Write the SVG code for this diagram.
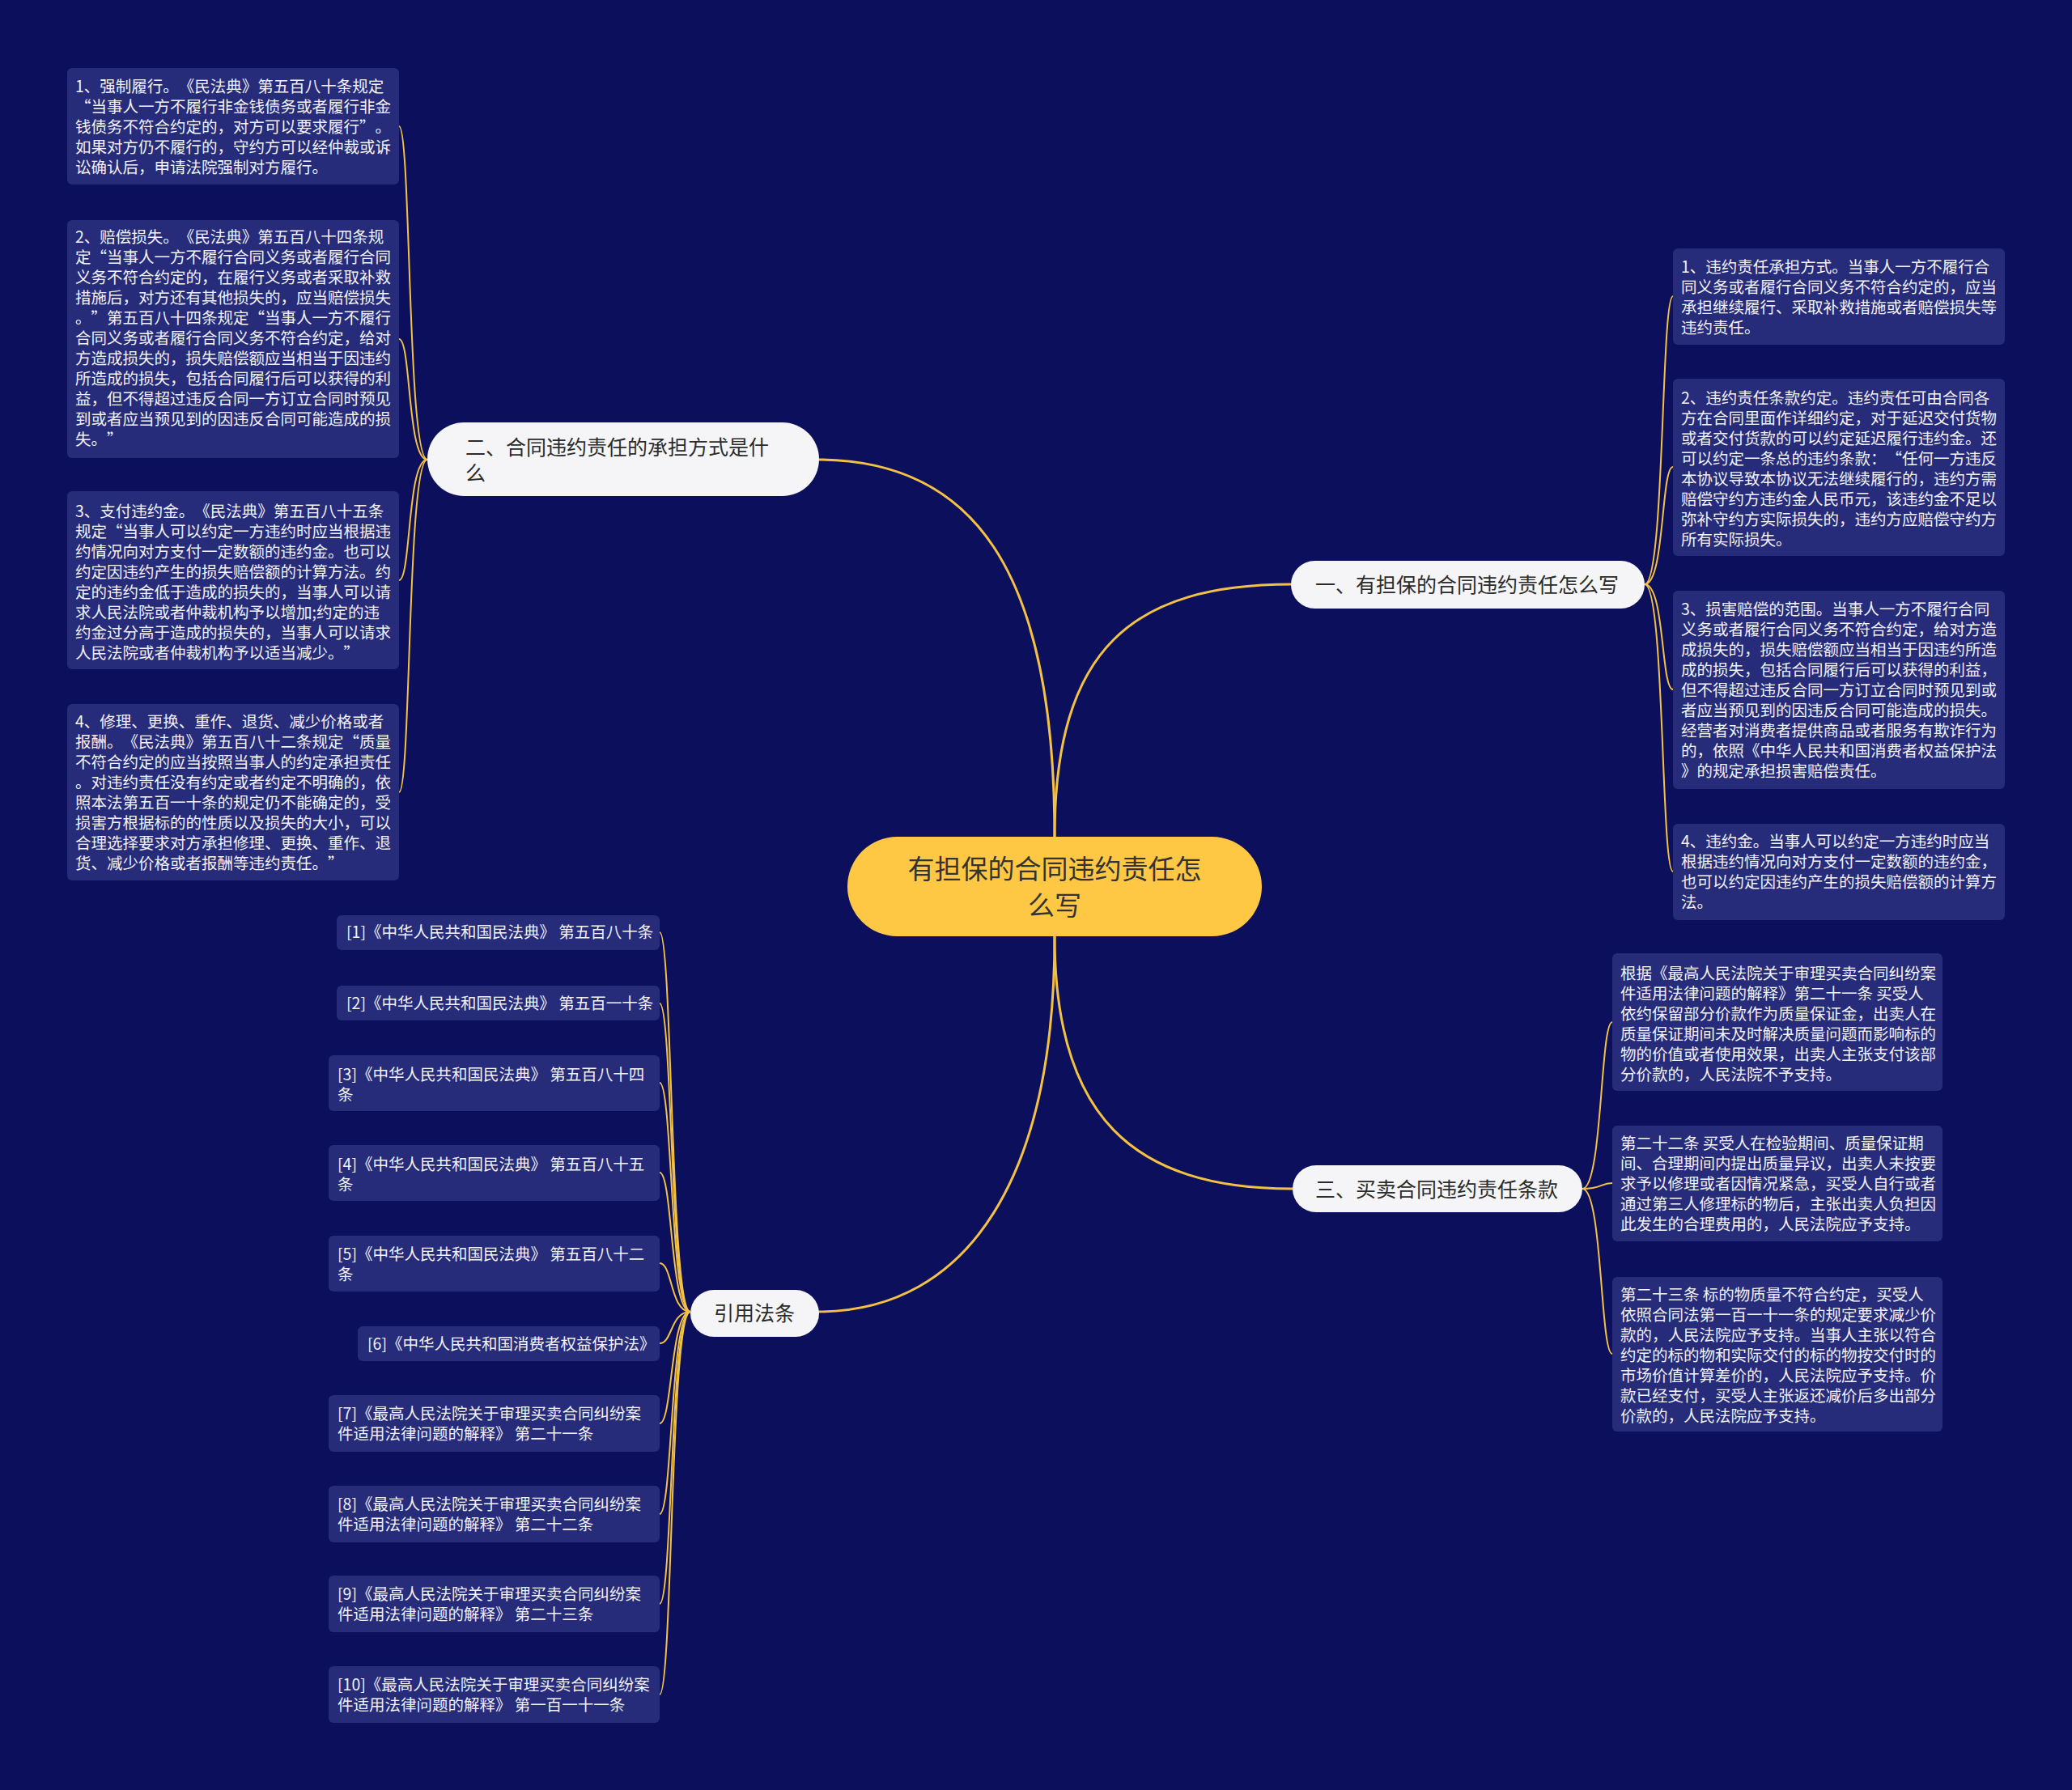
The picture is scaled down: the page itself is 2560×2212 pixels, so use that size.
<svg xmlns="http://www.w3.org/2000/svg" width="2560" height="2212" viewBox="0 0 2560 2212" xml:lang="zh-CN">
<style>
.t{font-family:"Noto Sans CJK SC","Microsoft YaHei",sans-serif;text-spacing-trim:space-all}
.leaf rect{fill:#262C7A}
.leaf text{font-size:19.5px;fill:#F2F2F7}
.br rect{fill:#F5F5F7}
.br text{font-size:25px;fill:#2B2B2B}
.root rect{fill:#FFC844}
.root text{font-size:33px;fill:#333333}
.main{fill:none;stroke:#F3C244;stroke-width:3}
.sub{fill:none;stroke:#F3C244;stroke-width:2}
</style>
<rect x="0" y="0" width="2560" height="2212" fill="#0B0F5C"/>
<g id="connectors">
<path class="main" d="M1303 1034 C1303 700 1200 568 1009 568"/>
<path class="main" d="M1303 1034 C1303 800 1400 722 1597 722"/>
<path class="main" d="M1303 1157 C1303 1380 1400 1469 1597 1469"/>
<path class="main" d="M1303 1157 C1303 1450 1200 1621 1009 1621"/>
<path class="sub" d="M528 568 C503 568 508 156 493 156"/>
<path class="sub" d="M528 568 C503 568 508 419 493 419"/>
<path class="sub" d="M528 568 C503 568 508 717 493 717"/>
<path class="sub" d="M528 568 C503 568 508 979 493 979"/>
<path class="sub" d="M2032 722 C2057 722 2052 366 2067 366"/>
<path class="sub" d="M2032 722 C2057 722 2052 577 2067 577"/>
<path class="sub" d="M2032 722 C2057 722 2052 852 2067 852"/>
<path class="sub" d="M2032 722 C2057 722 2052 1077 2067 1077"/>
<path class="sub" d="M1955 1469 C1980 1469 1977 1263 1992 1263"/>
<path class="sub" d="M1955 1469 C1980 1469 1977 1462 1992 1462"/>
<path class="sub" d="M1955 1469 C1980 1469 1977 1673 1992 1673"/>
<path class="sub" d="M853 1621 C828 1621 831 1152 815 1152"/>
<path class="sub" d="M853 1621 C828 1621 831 1240 815 1240"/>
<path class="sub" d="M853 1621 C828 1621 831 1338 815 1338"/>
<path class="sub" d="M853 1621 C828 1621 831 1449 815 1449"/>
<path class="sub" d="M853 1621 C828 1621 831 1561 815 1561"/>
<path class="sub" d="M853 1621 C828 1621 831 1660 815 1660"/>
<path class="sub" d="M853 1621 C828 1621 831 1759 815 1759"/>
<path class="sub" d="M853 1621 C828 1621 831 1871 815 1871"/>
<path class="sub" d="M853 1621 C828 1621 831 1982 815 1982"/>
<path class="sub" d="M853 1621 C828 1621 831 2094 815 2094"/>
</g>
<g id="root" class="root">
<rect x="1047" y="1034" width="512" height="123" rx="61.5"/>
<text class="t" x="1303" text-anchor="middle"><tspan x="1303" y="1086">有担保的合同违约责任怎</tspan><tspan x="1303" y="1131">么写</tspan></text>
</g>
<g id="b2" class="br">
<rect x="528" y="522" width="484" height="91" rx="45.5"/>
<text class="t"><tspan x="575" y="562">二、合同违约责任的承担方式是什</tspan><tspan x="575" y="594">么</tspan></text>
</g>
<g id="b1" class="br">
<rect x="1595" y="693" width="437" height="59" rx="29.5"/>
<text class="t" x="1625" y="732">一、有担保的合同违约责任怎么写</text>
</g>
<g id="b3" class="br">
<rect x="1597" y="1440" width="358" height="58" rx="29"/>
<text class="t" x="1625" y="1479">三、买卖合同违约责任条款</text>
</g>
<g id="b4" class="br">
<rect x="853" y="1594" width="159" height="58" rx="29"/>
<text class="t" x="882" y="1632">引用法条</text>
</g>
<g id="l1" class="leaf">
<rect x="83" y="84" width="410" height="144" rx="6"/>
<text class="t"><tspan x="93" y="114">1、强制履行。《民法典》第五百八十条规定</tspan><tspan x="93" y="139">“当事人一方不履行非金钱债务或者履行非金</tspan><tspan x="93" y="164">钱债务不符合约定的，对方可以要求履行”。</tspan><tspan x="93" y="189">如果对方仍不履行的，守约方可以经仲裁或诉</tspan><tspan x="93" y="214">讼确认后，申请法院强制对方履行。</tspan></text>
</g>
<g id="l2" class="leaf">
<rect x="83" y="272" width="410" height="294" rx="6"/>
<text class="t"><tspan x="93" y="300">2、赔偿损失。《民法典》第五百八十四条规</tspan><tspan x="93" y="325">定“当事人一方不履行合同义务或者履行合同</tspan><tspan x="93" y="350">义务不符合约定的，在履行义务或者采取补救</tspan><tspan x="93" y="375">措施后，对方还有其他损失的，应当赔偿损失</tspan><tspan x="93" y="400">。”第五百八十四条规定“当事人一方不履行</tspan><tspan x="93" y="425">合同义务或者履行合同义务不符合约定，给对</tspan><tspan x="93" y="450">方造成损失的，损失赔偿额应当相当于因违约</tspan><tspan x="93" y="475">所造成的损失，包括合同履行后可以获得的利</tspan><tspan x="93" y="500">益，但不得超过违反合同一方订立合同时预见</tspan><tspan x="93" y="525">到或者应当预见到的因违反合同可能造成的损</tspan><tspan x="93" y="550">失。”</tspan></text>
</g>
<g id="l3" class="leaf">
<rect x="83" y="607" width="410" height="220" rx="6"/>
<text class="t"><tspan x="93" y="639">3、支付违约金。《民法典》第五百八十五条</tspan><tspan x="93" y="664">规定“当事人可以约定一方违约时应当根据违</tspan><tspan x="93" y="689">约情况向对方支付一定数额的违约金。也可以</tspan><tspan x="93" y="714">约定因违约产生的损失赔偿额的计算方法。约</tspan><tspan x="93" y="739">定的违约金低于造成的损失的，当事人可以请</tspan><tspan x="93" y="764">求人民法院或者仲裁机构予以增加;约定的违</tspan><tspan x="93" y="789">约金过分高于造成的损失的，当事人可以请求</tspan><tspan x="93" y="814">人民法院或者仲裁机构予以适当减少。”</tspan></text>
</g>
<g id="l4" class="leaf">
<rect x="83" y="870" width="410" height="218" rx="6"/>
<text class="t"><tspan x="93" y="899">4、修理、更换、重作、退货、减少价格或者</tspan><tspan x="93" y="924">报酬。《民法典》第五百八十二条规定“质量</tspan><tspan x="93" y="949">不符合约定的应当按照当事人的约定承担责任</tspan><tspan x="93" y="974">。对违约责任没有约定或者约定不明确的，依</tspan><tspan x="93" y="999">照本法第五百一十条的规定仍不能确定的，受</tspan><tspan x="93" y="1024">损害方根据标的的性质以及损失的大小，可以</tspan><tspan x="93" y="1049">合理选择要求对方承担修理、更换、重作、退</tspan><tspan x="93" y="1074">货、减少价格或者报酬等违约责任。”</tspan></text>
</g>
<g id="r1" class="leaf">
<rect x="2067" y="307" width="410" height="119" rx="6"/>
<text class="t"><tspan x="2077" y="337">1、违约责任承担方式。当事人一方不履行合</tspan><tspan x="2077" y="362">同义务或者履行合同义务不符合约定的，应当</tspan><tspan x="2077" y="387">承担继续履行、采取补救措施或者赔偿损失等</tspan><tspan x="2077" y="412">违约责任。</tspan></text>
</g>
<g id="r2" class="leaf">
<rect x="2067" y="468" width="410" height="219" rx="6"/>
<text class="t"><tspan x="2077" y="499">2、违约责任条款约定。违约责任可由合同各</tspan><tspan x="2077" y="524">方在合同里面作详细约定，对于延迟交付货物</tspan><tspan x="2077" y="549">或者交付货款的可以约定延迟履行违约金。还</tspan><tspan x="2077" y="574">可以约定一条总的违约条款：“任何一方违反</tspan><tspan x="2077" y="599">本协议导致本协议无法继续履行的，违约方需</tspan><tspan x="2077" y="624">赔偿守约方违约金人民币元，该违约金不足以</tspan><tspan x="2077" y="649">弥补守约方实际损失的，违约方应赔偿守约方</tspan><tspan x="2077" y="674">所有实际损失。</tspan></text>
</g>
<g id="r3" class="leaf">
<rect x="2067" y="730" width="410" height="245" rx="6"/>
<text class="t"><tspan x="2077" y="760">3、损害赔偿的范围。当事人一方不履行合同</tspan><tspan x="2077" y="785">义务或者履行合同义务不符合约定，给对方造</tspan><tspan x="2077" y="810">成损失的，损失赔偿额应当相当于因违约所造</tspan><tspan x="2077" y="835">成的损失，包括合同履行后可以获得的利益，</tspan><tspan x="2077" y="860">但不得超过违反合同一方订立合同时预见到或</tspan><tspan x="2077" y="885">者应当预见到的因违反合同可能造成的损失。</tspan><tspan x="2077" y="910">经营者对消费者提供商品或者服务有欺诈行为</tspan><tspan x="2077" y="935">的，依照《中华人民共和国消费者权益保护法</tspan><tspan x="2077" y="960">》的规定承担损害赔偿责任。</tspan></text>
</g>
<g id="r4" class="leaf">
<rect x="2067" y="1018" width="410" height="119" rx="6"/>
<text class="t"><tspan x="2077" y="1047">4、违约金。当事人可以约定一方违约时应当</tspan><tspan x="2077" y="1072">根据违约情况向对方支付一定数额的违约金，</tspan><tspan x="2077" y="1097">也可以约定因违约产生的损失赔偿额的计算方</tspan><tspan x="2077" y="1122">法。</tspan></text>
</g>
<g id="s1" class="leaf">
<rect x="1992" y="1178" width="408" height="170" rx="6"/>
<text class="t"><tspan x="2002" y="1210">根据《最高人民法院关于审理买卖合同纠纷案</tspan><tspan x="2002" y="1235">件适用法律问题的解释》第二十一条 买受人</tspan><tspan x="2002" y="1260">依约保留部分价款作为质量保证金，出卖人在</tspan><tspan x="2002" y="1285">质量保证期间未及时解决质量问题而影响标的</tspan><tspan x="2002" y="1310">物的价值或者使用效果，出卖人主张支付该部</tspan><tspan x="2002" y="1335">分价款的，人民法院不予支持。</tspan></text>
</g>
<g id="s2" class="leaf">
<rect x="1992" y="1391" width="408" height="143" rx="6"/>
<text class="t"><tspan x="2002" y="1420">第二十二条 买受人在检验期间、质量保证期</tspan><tspan x="2002" y="1445">间、合理期间内提出质量异议，出卖人未按要</tspan><tspan x="2002" y="1470">求予以修理或者因情况紧急，买受人自行或者</tspan><tspan x="2002" y="1495">通过第三人修理标的物后，主张出卖人负担因</tspan><tspan x="2002" y="1520">此发生的合理费用的，人民法院应予支持。</tspan></text>
</g>
<g id="s3" class="leaf">
<rect x="1992" y="1578" width="408" height="191" rx="6"/>
<text class="t"><tspan x="2002" y="1607">第二十三条 标的物质量不符合约定，买受人</tspan><tspan x="2002" y="1632">依照合同法第一百一十一条的规定要求减少价</tspan><tspan x="2002" y="1657">款的，人民法院应予支持。当事人主张以符合</tspan><tspan x="2002" y="1682">约定的标的物和实际交付的标的物按交付时的</tspan><tspan x="2002" y="1707">市场价值计算差价的，人民法院应予支持。价</tspan><tspan x="2002" y="1732">款已经支付，买受人主张返还减价后多出部分</tspan><tspan x="2002" y="1757">价款的，人民法院应予支持。</tspan></text>
</g>
<g id="c1" class="leaf">
<rect x="416" y="1131" width="399" height="43" rx="6"/>
<text class="t" x="428" y="1159">[1]《中华人民共和国民法典》 第五百八十条</text>
</g>
<g id="c2" class="leaf">
<rect x="416" y="1218" width="399" height="43" rx="6"/>
<text class="t" x="428" y="1247">[2]《中华人民共和国民法典》 第五百一十条</text>
</g>
<g id="c3" class="leaf">
<rect x="406" y="1304" width="409" height="69" rx="6"/>
<text class="t"><tspan x="417" y="1335">[3]《中华人民共和国民法典》 第五百八十四</tspan><tspan x="417" y="1360">条</tspan></text>
</g>
<g id="c4" class="leaf">
<rect x="406" y="1415" width="409" height="69" rx="6"/>
<text class="t"><tspan x="417" y="1446">[4]《中华人民共和国民法典》 第五百八十五</tspan><tspan x="417" y="1471">条</tspan></text>
</g>
<g id="c5" class="leaf">
<rect x="406" y="1527" width="409" height="69" rx="6"/>
<text class="t"><tspan x="417" y="1557">[5]《中华人民共和国民法典》 第五百八十二</tspan><tspan x="417" y="1582">条</tspan></text>
</g>
<g id="c6" class="leaf">
<rect x="442" y="1639" width="373" height="43" rx="6"/>
<text class="t" x="454" y="1668">[6]《中华人民共和国消费者权益保护法》</text>
</g>
<g id="c7" class="leaf">
<rect x="406" y="1724" width="409" height="70" rx="6"/>
<text class="t"><tspan x="417" y="1754">[7]《最高人民法院关于审理买卖合同纠纷案</tspan><tspan x="417" y="1779">件适用法律问题的解释》 第二十一条</tspan></text>
</g>
<g id="c8" class="leaf">
<rect x="406" y="1836" width="409" height="70" rx="6"/>
<text class="t"><tspan x="417" y="1866">[8]《最高人民法院关于审理买卖合同纠纷案</tspan><tspan x="417" y="1891">件适用法律问题的解释》 第二十二条</tspan></text>
</g>
<g id="c9" class="leaf">
<rect x="406" y="1947" width="409" height="70" rx="6"/>
<text class="t"><tspan x="417" y="1977">[9]《最高人民法院关于审理买卖合同纠纷案</tspan><tspan x="417" y="2002">件适用法律问题的解释》 第二十三条</tspan></text>
</g>
<g id="c10" class="leaf">
<rect x="406" y="2059" width="409" height="70" rx="6"/>
<text class="t"><tspan x="417" y="2089">[10]《最高人民法院关于审理买卖合同纠纷案</tspan><tspan x="417" y="2114">件适用法律问题的解释》 第一百一十一条</tspan></text>
</g>
</svg>
